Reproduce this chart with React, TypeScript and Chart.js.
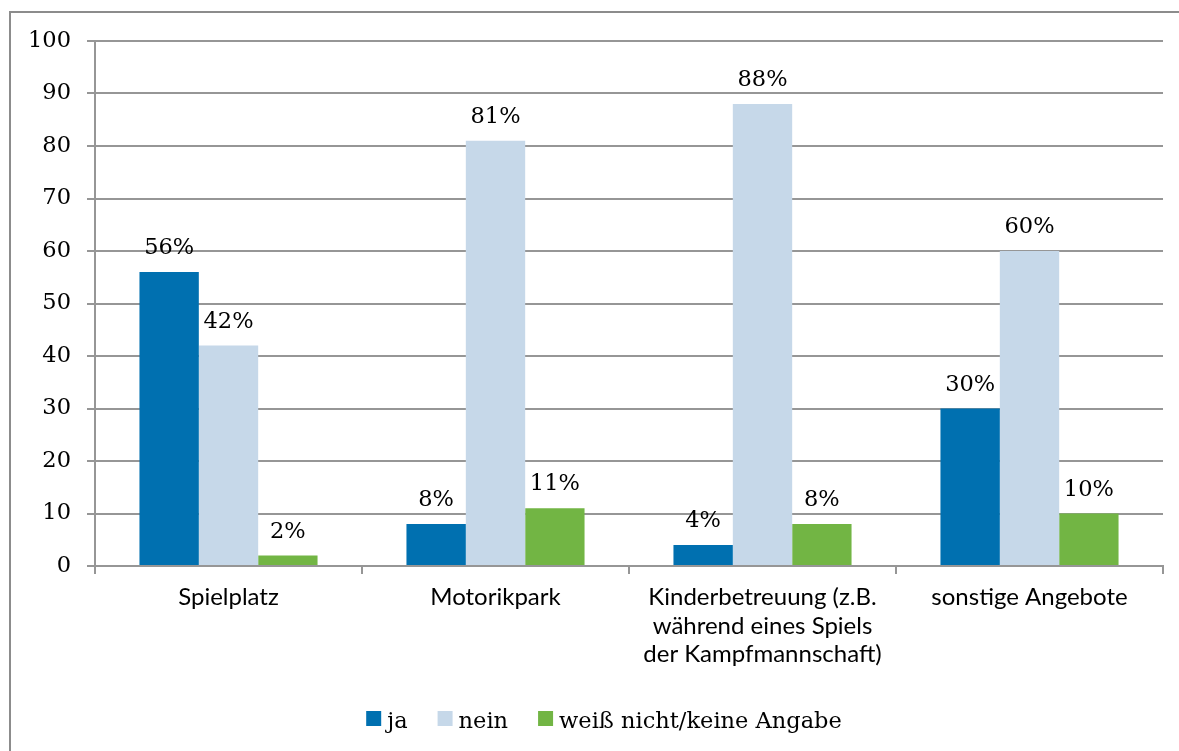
import React, { useEffect, useRef } from "react";
import { Chart, registerables } from "chart.js";

Chart.register(...registerables);

const categories: (string | string[])[] = [
  "Spielplatz",
  "Motorikpark",
  ["Kinderbetreuung (z.B.", "während eines Spiels", "der Kampfmannschaft)"],
  "sonstige Angebote",
];
const seriesNames = ["ja", "nein", "weiß nicht/keine Angabe"];
const jaValues = [56, 8, 4, 30];
const neinValues = [42, 81, 88, 60];
const weissValues = [2, 11, 8, 10];
const yTicks = [0, 10, 20, 30, 40, 50, 60, 70, 80, 90, 100];

const colors = ["#0070b0", "#c6d8e9", "#72b544"];
const gridColor = "#969696";
const serif = "'DejaVu Serif', serif";
const sans = "Lato, 'Open Sans', sans-serif";

const framePlugin = {
  id: "frame",
  beforeDraw(chart: any) {
    const ctx = chart.ctx;
    ctx.save();
    ctx.fillStyle = "#ffffff";
    ctx.fillRect(0, 0, chart.width, chart.height);
    ctx.strokeStyle = "#8c8c8c";
    ctx.lineWidth = 2;
    ctx.strokeRect(10, 12, 1400, 1000);
    ctx.restore();
  },
};

const valueLabelPlugin = {
  id: "valueLabels",
  afterDatasetsDraw(chart: any) {
    const ctx = chart.ctx;
    ctx.save();
    ctx.font = `22.5px ${serif}`;
    ctx.fillStyle = "#000";
    ctx.textAlign = "center";
    ctx.textBaseline = "alphabetic";
    chart.data.datasets.forEach((ds: any, i: number) => {
      const meta = chart.getDatasetMeta(i);
      meta.data.forEach((el: any, j: number) => {
        ctx.fillText(`${ds.data[j]}%`, el.x, el.y - 18);
      });
    });
    ctx.restore();
  },
};

const legendPlugin = {
  id: "customLegend",
  afterDraw(chart: any) {
    const ctx = chart.ctx;
    ctx.save();
    ctx.font = `22.5px ${serif}`;
    const box = 15;
    const gapText = 6;
    const gapItem = 30;
    const items = chart.data.datasets.map((ds: any) => ({
      label: ds.label,
      color: ds.backgroundColor,
      w: ctx.measureText(ds.label).width,
    }));
    let total = 0;
    items.forEach((it: any, i: number) => {
      total += box + gapText + it.w + (i < items.length - 1 ? gapItem : 0);
    });
    const centerX = 604;
    const centerY = 718.5;
    let x = centerX - total / 2;
    items.forEach((it: any) => {
      ctx.fillStyle = it.color;
      ctx.fillRect(x, centerY - box / 2, box, box);
      ctx.fillStyle = "#000";
      ctx.textAlign = "left";
      ctx.textBaseline = "alphabetic";
      ctx.fillText(it.label, x + box + gapText, centerY + 9.5);
      x += box + gapText + it.w + gapItem;
    });
    ctx.restore();
  },
};

export default function App() {
  const ref = useRef<HTMLCanvasElement | null>(null);
  useEffect(() => {
    if (!ref.current) return;
    const chart = new Chart(ref.current, {
      type: "bar",
      data: {
        labels: categories,
        datasets: [
          { label: seriesNames[0], data: jaValues, backgroundColor: colors[0] },
          { label: seriesNames[1], data: neinValues, backgroundColor: colors[1] },
          { label: seriesNames[2], data: weissValues, backgroundColor: colors[2] },
        ],
      },
      options: {
        responsive: false,
        animation: false,
        devicePixelRatio: 1,
        datasets: {
          bar: { categoryPercentage: 0.667, barPercentage: 1.0 },
        },
        layout: { padding: { left: 0, right: 16, top: 41, bottom: 85 } },
        plugins: {
          legend: { display: false },
          tooltip: { enabled: false },
        },
        scales: {
          x: {
            grid: {
              display: true,
              offset: true,
              drawOnChartArea: false,
              drawTicks: true,
              tickLength: 8,
              color: gridColor,
              lineWidth: 2,
            },
            border: { display: true, color: gridColor, width: 2 },
            ticks: {
              font: { family: sans, size: 24, lineHeight: 1.18 },
              color: "#000",
              padding: 9.5,
              maxRotation: 0,
              autoSkip: false,
            },
            afterFit(scale: any) {
              scale.height = 100;
            },
          },
          y: {
            min: 0,
            max: 100,
            afterBuildTicks(scale: any) {
              scale.ticks = yTicks.map((v) => ({ value: v }));
            },
            grid: {
              color: gridColor,
              lineWidth: 2,
              drawTicks: true,
              tickLength: 8,
            },
            border: { display: true, color: gridColor, width: 2 },
            ticks: {
              font: { family: serif, size: 22.5 },
              color: "#000",
              padding: 16,
            },
            afterFit(scale: any) {
              scale.width = 95;
            },
          },
        },
      },
      plugins: [framePlugin, valueLabelPlugin, legendPlugin],
    });
    return () => chart.destroy();
  }, []);
  return (
    <div style={{ position: "fixed", left: 0, top: 0, width: 1179, height: 751, overflow: "hidden", background: "#fff" }}>
      <canvas ref={ref} width={1179} height={751} style={{ display: "block", width: 1179, height: 751 }} />
    </div>
  );
}
